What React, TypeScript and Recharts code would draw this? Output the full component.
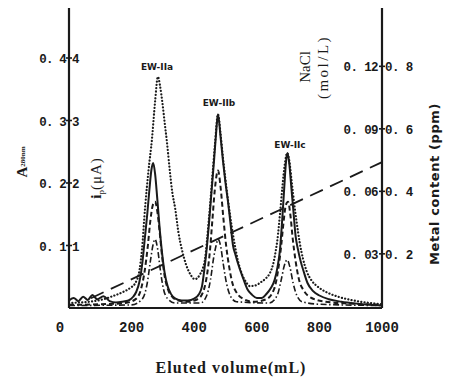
import React from 'react';
import { ComposedChart, Line, XAxis, YAxis } from 'recharts';

// ---- axis ticks / labels ----
const volumeTicks = [0, 200, 400, 600, 800, 1000];
const leftTicks = [0.1, 0.2, 0.3, 0.4];
const leftOuterLabels = ['0. 1', '0. 2', '0. 3', '0. 4'];
const leftInnerLabels = ['1', '2', '3', '4'];
const rightTicks = [0.03, 0.06, 0.09, 0.12];
const rightOuterLabels = ['0. 03', '0. 06', '0. 09', '0. 12'];
const rightInnerLabels = ['0. 2', '0. 4', '0. 6', '0. 8'];
const peakNames = ['EW-IIa', 'EW-IIb', 'EW-IIc'];

// ---- series: dotted (A280) ----
const dottedVol = [0, 40, 80, 110, 140, 170, 195, 212, 225, 233, 243, 254, 265, 275, 284, 291, 298, 306, 313, 322, 330, 339, 350, 361, 375, 390, 402, 412, 420, 428, 435, 441, 450, 458, 466, 476, 484, 492, 500, 510, 520, 530, 540, 552, 565, 578, 595, 615, 630, 642, 652, 660, 666, 674, 682, 690, 697, 704, 712, 720, 728, 737, 748, 760, 775, 795, 820, 860, 910, 1000];
const dottedVal = [0.008, 0.009, 0.011, 0.014, 0.019, 0.025, 0.032, 0.04, 0.06, 0.093, 0.16, 0.22, 0.27, 0.33, 0.37, 0.355, 0.33, 0.295, 0.265, 0.22, 0.185, 0.16, 0.12, 0.093, 0.068, 0.052, 0.046, 0.049, 0.055, 0.064, 0.08, 0.109, 0.16, 0.21, 0.26, 0.31, 0.28, 0.24, 0.205, 0.165, 0.13, 0.1, 0.075, 0.055, 0.042, 0.035, 0.036, 0.042, 0.048, 0.056, 0.07, 0.09, 0.11, 0.15, 0.195, 0.232, 0.248, 0.235, 0.2, 0.165, 0.135, 0.105, 0.078, 0.058, 0.044, 0.034, 0.026, 0.018, 0.012, 0.006];

// ---- series: solid (ip) ----
const solidVol = [0, 15, 30, 45, 60, 75, 90, 110, 130, 150, 170, 190, 205, 215, 225, 235, 242, 250, 257, 263, 269, 275, 282, 290, 298, 306, 315, 325, 340, 360, 380, 400, 415, 425, 432, 440, 448, 456, 464, 470, 476, 484, 492, 500, 508, 516, 524, 532, 542, 556, 570, 585, 600, 615, 630, 645, 657, 666, 674, 681, 688, 693, 698, 704, 710, 717, 724, 731, 740, 750, 762, 780, 800, 830, 870, 920, 1000];
const solidVal = [0.012, 0.016, 0.011, 0.018, 0.013, 0.021, 0.014, 0.019, 0.011, 0.009, 0.01, 0.012, 0.018, 0.026, 0.042, 0.075, 0.11, 0.15, 0.19, 0.22, 0.232, 0.215, 0.175, 0.125, 0.085, 0.055, 0.035, 0.023, 0.015, 0.012, 0.012, 0.015, 0.022, 0.035, 0.06, 0.095, 0.14, 0.19, 0.24, 0.28, 0.31, 0.275, 0.235, 0.2, 0.17, 0.135, 0.1, 0.085, 0.068, 0.048, 0.03, 0.021, 0.016, 0.016, 0.022, 0.032, 0.045, 0.065, 0.093, 0.14, 0.195, 0.232, 0.248, 0.23, 0.195, 0.155, 0.115, 0.095, 0.075, 0.058, 0.04, 0.027, 0.02, 0.014, 0.01, 0.007, 0.004];

// ---- series: dashed (metal 1) ----
const dashedVol = [0, 100, 180, 215, 230, 242, 252, 260, 268, 275, 282, 290, 298, 306, 316, 330, 350, 380, 410, 428, 440, 450, 458, 466, 476, 485, 493, 502, 512, 522, 535, 555, 590, 630, 655, 668, 678, 686, 693, 700, 707, 715, 724, 735, 750, 775, 820, 900, 1000];
const dashedVal = [0.005, 0.006, 0.008, 0.015, 0.03, 0.06, 0.1, 0.14, 0.165, 0.17, 0.155, 0.12, 0.08, 0.05, 0.03, 0.018, 0.012, 0.01, 0.014, 0.025, 0.05, 0.09, 0.14, 0.19, 0.22, 0.19, 0.145, 0.1, 0.065, 0.04, 0.025, 0.015, 0.01, 0.014, 0.03, 0.06, 0.1, 0.14, 0.165, 0.17, 0.15, 0.11, 0.075, 0.045, 0.028, 0.016, 0.01, 0.007, 0.005];

// ---- series: dash-dot (metal 2) ----
const dashDotVol = [0, 200, 235, 250, 260, 268, 275, 283, 292, 302, 315, 340, 420, 440, 452, 462, 470, 476, 484, 493, 503, 515, 535, 640, 665, 678, 688, 697, 706, 716, 728, 745, 800, 1000];
const dashDotVal = [0.004, 0.005, 0.015, 0.04, 0.075, 0.1, 0.11, 0.095, 0.06, 0.03, 0.015, 0.008, 0.008, 0.02, 0.045, 0.08, 0.1, 0.11, 0.1, 0.07, 0.04, 0.02, 0.01, 0.008, 0.02, 0.045, 0.068, 0.077, 0.065, 0.04, 0.02, 0.01, 0.006, 0.004];

// ---- series: NaCl gradient (right axis, mol/L) ----
const naclVol = [70, 1000];
const naclVal = [0.0087, 0.074];

const toRows = (vol: number[], val: number[]) => vol.map((v, i) => ({ v, y: val[i] }));

const INK = '#1a1a1a';
const MONO = '"Liberation Mono", "DejaVu Sans Mono", monospace';
const SERIF = '"Liberation Serif", "DejaVu Serif", serif';

const LeftTick = (props: any) => {
  const { x, y, payload } = props;
  const i = leftTicks.findIndex((t) => Math.abs(t - payload.value) < 1e-9);
  return (
    <g>
      <line x1={x - 3} x2={x + 3} y1={y} y2={y} stroke={INK} strokeWidth={1.6} />
      <text x={x - 3} y={y} dy={5} textAnchor="end" fontFamily={MONO} fontWeight="bold" fontSize={12.5} letterSpacing={-0.8} fill={INK}>{leftOuterLabels[i]}</text>
      <text x={x + 3} y={y} dy={5} textAnchor="start" fontFamily={MONO} fontWeight="bold" fontSize={12.5} fill={INK}>{leftInnerLabels[i]}</text>
    </g>
  );
};

const RightTick = (props: any) => {
  const { x, y, payload } = props;
  const i = rightTicks.findIndex((t) => Math.abs(t - payload.value) < 1e-9);
  return (
    <g>
      <line x1={x - 3} x2={x + 3} y1={y} y2={y} stroke={INK} strokeWidth={1.6} />
      <text x={x - 4} y={y} dy={5} textAnchor="end" fontFamily={MONO} fontWeight="bold" fontSize={12.5} letterSpacing={-0.6} fill={INK}>{rightOuterLabels[i]}</text>
      <text x={x + 3} y={y} dy={5} textAnchor="start" fontFamily={MONO} fontWeight="bold" fontSize={12.5} letterSpacing={-0.6} fill={INK}>{rightInnerLabels[i]}</text>
    </g>
  );
};

const BottomTick = (props: any) => {
  const { x, y, payload } = props;
  const shift = payload.value === 0 ? -9 : 0;
  return (
    <text x={x + shift} y={y} dy={24} textAnchor="middle" fontFamily={MONO} fontWeight="bold" fontSize={14} fill={INK}>
      {String(payload.value)}
    </text>
  );
};

export default function App() {
  return (
    <div style={{ position: 'absolute', left: 0, top: 0, width: 456, height: 378, background: '#fff' }}>
      <ComposedChart width={456} height={378} margin={{ top: 8, right: 64, bottom: 40, left: 59 }}>
        <XAxis
          type="number"
          dataKey="v"
          domain={[0, 1000]}
          ticks={volumeTicks}
          height={30}
          tickSize={0}
          tickMargin={0}
          tickLine={false}
          axisLine={{ stroke: INK, strokeWidth: 2.2 }}
          tick={<BottomTick />}
          allowDataOverflow
        />
        <YAxis
          yAxisId="left"
          type="number"
          domain={[0, 0.48]}
          ticks={leftTicks}
          width={10}
          tickSize={0}
          tickMargin={0}
          tickLine={false}
          axisLine={{ stroke: INK, strokeWidth: 2.2 }}
          tick={<LeftTick />}
          allowDataOverflow
        />
        <YAxis
          yAxisId="right"
          orientation="right"
          type="number"
          domain={[0.004, 0.148]}
          ticks={rightTicks}
          width={10}
          tickSize={0}
          tickMargin={0}
          tickLine={false}
          axisLine={{ stroke: INK, strokeWidth: 2.2 }}
          tick={<RightTick />}
          allowDataOverflow
        />
        <Line yAxisId="right" data={toRows(naclVol, naclVal)} dataKey="y" type="linear" stroke={INK} strokeWidth={1.8} strokeDasharray="14 8" dot={false} activeDot={false} isAnimationActive={false} />
        <Line yAxisId="left" data={toRows(dashDotVol, dashDotVal)} dataKey="y" type="monotone" stroke={INK} strokeWidth={1.6} strokeDasharray="6 2.5 1.5 2.5" dot={false} activeDot={false} isAnimationActive={false} />
        <Line yAxisId="left" data={toRows(dashedVol, dashedVal)} dataKey="y" type="monotone" stroke={INK} strokeWidth={2} strokeDasharray="5 3" dot={false} activeDot={false} isAnimationActive={false} />
        <Line yAxisId="left" data={toRows(dottedVol, dottedVal)} dataKey="y" type="monotone" stroke={INK} strokeWidth={2.2} strokeDasharray="0.1 3.2" strokeLinecap="round" dot={false} activeDot={false} isAnimationActive={false} />
        <Line yAxisId="left" data={toRows(solidVol, solidVal)} dataKey="y" type="monotone" stroke={INK} strokeWidth={2} dot={false} activeDot={false} isAnimationActive={false} />
      </ComposedChart>
      <svg width={456} height={378} style={{ position: 'absolute', left: 0, top: 0, pointerEvents: 'none' }}>
        {/* peak labels */}
        <text x={157} y={70} textAnchor="middle" fontFamily='"DejaVu Sans", sans-serif' fontWeight="bold" fontSize={9} fill={INK}>{peakNames[0]}</text>
        <text x={219} y={106} textAnchor="middle" fontFamily='"DejaVu Sans", sans-serif' fontWeight="bold" fontSize={9} fill={INK}>{peakNames[1]}</text>
        <text x={290} y={148} textAnchor="middle" fontFamily='"DejaVu Sans", sans-serif' fontWeight="bold" fontSize={9} fill={INK}>{peakNames[2]}</text>
        {/* left axis titles */}
        <text transform="rotate(-90, 27, 162)" x={27} y={162} textAnchor="middle" fontFamily={SERIF} fill={INK}>
          <tspan fontSize={15} fontWeight="bold">A</tspan>
          <tspan fontSize={7} fontWeight="bold" dy={-2}>280nm</tspan>
        </text>
        <text transform="rotate(-90, 101, 178)" x={101} y={178} textAnchor="middle" fontFamily={SERIF} fontSize={15} fill={INK}>
          <tspan fontWeight="bold">i</tspan>
          <tspan fontSize={9} dy={3}>p</tspan>
          <tspan dy={-3} letterSpacing={1}>(μA)</tspan>
        </text>
        {/* right axis titles */}
        <text transform="rotate(-90, 310, 67)" x={310} y={67} textAnchor="middle" fontFamily={SERIF} fontSize={15} fill={INK}>NaCl</text>
        <text transform="rotate(-90, 328, 67)" x={328} y={67} textAnchor="middle" fontFamily={SERIF} fontSize={15} letterSpacing={2.5} fill={INK}>(mol/L)</text>
        <text transform="rotate(-90, 439, 184)" x={439} y={184} textAnchor="middle" fontFamily='"DejaVu Sans", sans-serif' fontWeight="bold" fontSize={13} letterSpacing={0.6} fill={INK}>Metal content (ppm)</text>
        {/* x axis title */}
        <text x={231} y={373} textAnchor="middle" fontFamily={SERIF} fontSize={16} fontWeight="bold" letterSpacing={1} fill={INK}>Eluted volume(mL)</text>
      </svg>
    </div>
  );
}
